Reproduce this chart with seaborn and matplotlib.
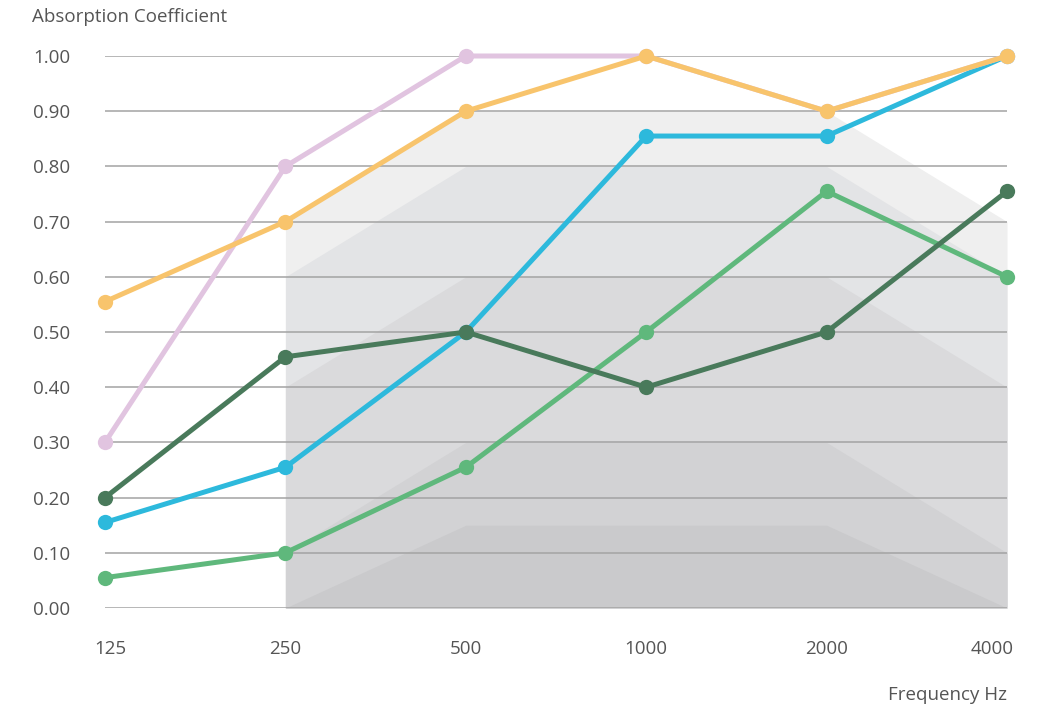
"""Absorption coefficient per frequency band, with class bands in the background."""

import matplotlib.pyplot as plt
import matplotlib.transforms as mtransforms
import pandas as pd
import seaborn as sns

sns.set_style("white")
plt.rcParams["font.family"] = ["Open Sans", "DejaVu Sans"]

frequencies = ["125", "250", "500", "1000", "2000", "4000"]

# product curves
light_green = [0.055, 0.10, 0.255, 0.50, 0.755, 0.60]
blue = [0.155, 0.255, 0.50, 0.855, 0.855, 1.00]
dark_green = [0.20, 0.455, 0.50, 0.40, 0.50, 0.755]
pink = [0.30, 0.80, 1.00, 1.00, 0.90, 1.00]
orange = [0.555, 0.70, 0.90, 1.00, 0.90, 1.00]

# class bands (from 250 Hz up)
band_freqs = ["250", "500", "1000", "2000", "4000"]
band_a = [0.70, 0.90, 0.90, 0.90, 0.70]
band_b = [0.60, 0.80, 0.80, 0.80, 0.60]
band_c = [0.40, 0.60, 0.60, 0.60, 0.40]
band_d = [0.10, 0.30, 0.30, 0.30, 0.10]
band_e = [0.00, 0.15, 0.15, 0.15, 0.00]

series = [
    ("light_green", light_green, "#5fb87c"),
    ("blue", blue, "#2db9dc"),
    ("dark_green", dark_green, "#497a5b"),
    ("pink", pink, "#e1c4e0"),
    ("orange", orange, "#f8c46c"),
]
bands = [
    (band_a, "#efefef"),
    (band_b, "#e3e4e6"),
    (band_c, "#dadadc"),
    (band_d, "#d2d2d4"),
    (band_e, "#cacacc"),
]


def main():
    pos = {f: i for i, f in enumerate(frequencies)}
    band_x = [pos[f] for f in band_freqs]

    fig = plt.figure(figsize=(10.48, 7.09), dpi=100)
    ax = fig.add_axes([105 / 1048, 1 - 608 / 709, (1007 - 105) / 1048, (608 - 56) / 709])

    for top, color in bands:
        ax.fill_between(band_x, 0, top, color=color, linewidth=0, zorder=1)

    for name, values, color in series:
        df = pd.DataFrame({"x": list(range(len(frequencies))), "y": values})
        sns.lineplot(
            data=df, x="x", y="y", ax=ax, color=color, linewidth=3.6,
            marker="o", markersize=11, markeredgewidth=0, sort=False,
            clip_on=False, zorder=3,
        )

    ax.set_xlim(0, len(frequencies) - 1)
    ax.set_ylim(0, 1)
    ax.set_xticks(range(len(frequencies)))
    ax.set_xticklabels(frequencies)
    yt = [i / 10 for i in range(11)]
    ax.set_yticks(yt)
    ax.set_yticklabels([f"{v:.2f}" for v in yt])
    ax.tick_params(axis="x", length=0, pad=23, labelsize=13.5, labelcolor="#555555")
    ax.tick_params(axis="y", length=0, pad=25, labelsize=13.5, labelcolor="#555555")
    ax.grid(axis="y", color="#a3a3a3", linewidth=1.1, zorder=2)
    ax.set_axisbelow(False)
    for line in ax.get_ygridlines():
        line.set_zorder(2)
    ax.set_xlabel("")
    ax.set_ylabel("")
    sns.despine(ax=ax, left=True, bottom=True)

    # end labels sit slightly inward in the original
    labels = ax.get_xticklabels()
    labels[0].set_transform(labels[0].get_transform()
                            + mtransforms.ScaledTranslation(5 / 100, 0, fig.dpi_scale_trans))
    labels[-1].set_transform(labels[-1].get_transform()
                             + mtransforms.ScaledTranslation(-15 / 100, 0, fig.dpi_scale_trans))

    fig.text(32 / 1048, 1 - 17 / 709, "Absorption Coefficient", ha="left", va="center",
             fontsize=13.5, color="#555555")
    fig.text(1007 / 1048, 1 - 695 / 709, "Frequency Hz", ha="right", va="center",
             fontsize=13.5, color="#555555")

    fig.savefig("out.png", dpi=100)


if __name__ == '__main__':
    main()
